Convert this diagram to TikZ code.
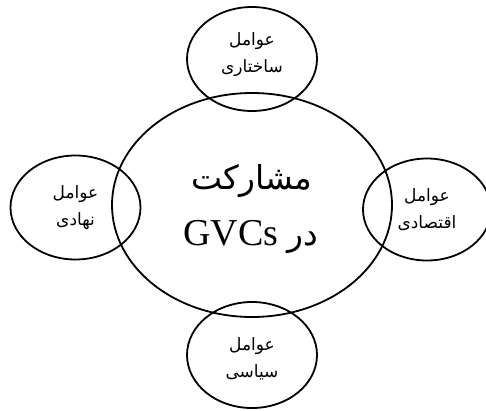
\documentclass[tikz,border=0pt]{standalone}
\usepackage{fontspec}
\setmainfont{Liberation Serif}
\newfontfamily\arabicfont[Script=Arabic]{DejaVu Sans}
\TeXXeTstate=1
\usetikzlibrary{shapes.geometric}
\begin{document}
\begin{tikzpicture}[x=1pt,y=-1pt,
  ring/.style={draw,line width=1.8pt,ellipse,inner sep=0pt},
  small/.style={ring,minimum width=130pt,minimum height=104pt},
  lbl/.style={font=\arabicfont\fontsize{17}{27}\selectfont,align=center}]
\useasboundingbox (0,0) rectangle (486,410);
\node[ring,minimum width=280pt,minimum height=224pt] (main) at (252,205) {};
\node[small] (top) at (252,59) {};
\node[small] (left) at (75.5,207.5) {};
\node[small,minimum width=128pt,minimum height=102pt] (right) at (427,209.5) {};
\node[small,minimum height=106pt] (bottom) at (252,355) {};
\node[lbl] (ttop) at ([yshift=4pt]top.center) {\beginR عوامل\endR\\\beginR ساختاری\endR};
\node[lbl] (tleft) at (left) {\beginR عوامل\endR\\\beginR نهادی\endR};
\node[lbl] (tright) at (right) {\beginR عوامل\endR\\\beginR اقتصادی\endR};
\node[lbl] (tbottom) at ([yshift=-4pt]bottom.center) {\beginR عوامل\endR\\\beginR سیاسی\endR};
\node[font=\arabicfont\fontsize{33}{36}\selectfont] (m1) at (252,181) {\beginR مشارکت\endR};
\node[font=\fontsize{38}{40}\selectfont] (m2) at (251,237) {\beginR{\arabicfont\fontsize{33}{36}\selectfont در} \beginL GVCs\endL\endR};
\end{tikzpicture}
\end{document}
